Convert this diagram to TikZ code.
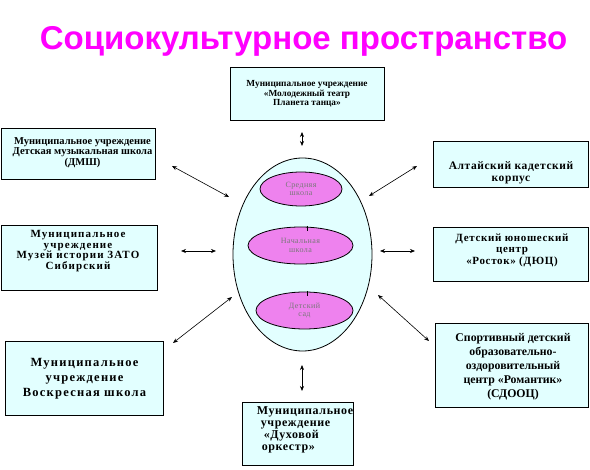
\documentclass[tikz,border=0pt]{standalone}
\usepackage{fontspec}
\setmainfont{Liberation Serif}
\newfontfamily\titlefont{Liberation Sans}
\usetikzlibrary{arrows.meta,shapes.geometric}
\definecolor{boxfill}{RGB}{226,255,255}
\definecolor{innerfill}{RGB}{238,130,238}
\definecolor{titlecol}{RGB}{255,0,255}
\definecolor{graytext}{RGB}{120,120,120}
\newcommand\boxfont[3]{\fontsize{#1}{#2}\selectfont\bfseries\addfontfeature{LetterSpace=#3}}
\begin{document}
\begin{tikzpicture}[x=1pt,y=-1pt,
  box/.style={draw=black, line width=1pt, fill=boxfill, inner sep=0pt},
  txt/.style={align=center, inner sep=0pt},
  arr/.style={{Stealth[length=5pt,width=4pt]}-{Stealth[length=5pt,width=4pt]}, line width=0.6pt},
  innerell/.style={ellipse, draw=black, line width=0.8pt, fill=innerfill, inner sep=0pt},
  intext/.style={align=center, inner sep=0pt, text=graytext, font=\fontsize{8}{8.5}\selectfont\addfontfeature{LetterSpace=5}}
]
\useasboundingbox (0,0) rectangle (590,470);

% title
\node[anchor=base, inner sep=0pt, text=titlecol, font=\titlefont\bfseries\fontsize{33}{33}\selectfont] (title) at (303.5,50) {Социокультурное пространство};

% central egg
\node[ellipse, draw=black, line width=0.8pt, fill=boxfill, minimum width=139pt, minimum height=193pt] (egg) at (302.5,254.5) {};
\node[innerell, minimum width=82pt, minimum height=34pt] (sr) at (301,189) {};
\node[intext] (srt) at (301,189) {Средняя\\школа};
\node[innerell, minimum width=105pt, minimum height=37pt] (nach) at (300.5,245.5) {};
\node[intext] (nacht) at (300.5,245.5) {Начальная\\школа};
\node[innerell, minimum width=97pt, minimum height=37pt] (ds) at (304.5,310.5) {};
\node[intext] (dst) at (304.5,310.5) {Детский\\сад};
\draw[line width=0.8pt] (307,226) -- (307,231);
\draw[line width=0.8pt] (307,291) -- (307,296);

% boxes
\node[box, minimum width=154pt, minimum height=53pt] (top) at (307,94.5) {};
\node[txt, font=\boxfont{9.3}{9.6}{0}] (topt) at (307,94) {Муниципальное учреждение\\«Молодежный театр\\Планета танца»};

\node[box, minimum width=154pt, minimum height=51pt] (lb1) at (78,154.5) {};
\node[txt, font=\boxfont{10.5}{10.2}{0}] (lb1t) at (82.5,152.5) {Муниципальное учреждение\\Детская музыкальная школа\\(ДМШ)};

\node[box, minimum width=155pt, minimum height=46pt] (rb1) at (511,165) {};
\node[txt, font=\boxfont{11.5}{11.7}{5}] (rb1t) at (511,172.5) {Алтайский кадетский\\корпус};

\node[box, minimum width=156pt, minimum height=65pt] (lb2) at (79,258.5) {};
\node[txt, font=\boxfont{11}{10.6}{10}] (lb2t) at (78,251) {Муниципальное\\учреждение\\Музей истории ЗАТО\\Сибирский};

\node[box, minimum width=155pt, minimum height=54pt] (rb2) at (511,255) {};
\node[txt, font=\boxfont{11}{11.5}{6}] (rb2t) at (512,250) {Детский юношеский\\центр\\«Росток» (ДЮЦ)};

\node[box, minimum width=158pt, minimum height=74pt] (lb3) at (84,379) {};
\node[txt, font=\boxfont{12.5}{15}{10}] (lb3t) at (84.5,378.5) {Муниципальное\\учреждение\\Воскресная школа};

\node[box, minimum width=153pt, minimum height=84pt] (rb3) at (512,366) {};
\node[txt, font=\boxfont{11.8}{14}{0}] (rb3t) at (513,367) {Спортивный детский\\образовательно-\\оздоровительный\\центр «Романтик»\\(СДООЦ)};

\node[box, minimum width=111pt, minimum height=63pt] (bot) at (297.5,434.5) {};
\node[txt, align=left, font=\boxfont{12}{11.9}{5}] (bott) at (305,430) {Муниципальное\\\hspace*{4pt}учреждение\\\hspace*{7pt}«Духовой\\\hspace*{5pt}оркестр»};

% arrows
\coordinate (a1s) at (302,132); \coordinate (a1e) at (302,146);
\coordinate (a2s) at (172,166); \coordinate (a2e) at (229,197);
\coordinate (a3s) at (417,166); \coordinate (a3e) at (369,196);
\coordinate (a4s) at (181,251); \coordinate (a4e) at (216,251);
\coordinate (a5s) at (380,251); \coordinate (a5e) at (415,251);
\coordinate (a6s) at (232,297); \coordinate (a6e) at (173,343);
\coordinate (a7s) at (378,295); \coordinate (a7e) at (429,341);
\coordinate (a8s) at (302,365); \coordinate (a8e) at (302,391);
\foreach \i in {1,...,8} { \draw[arr] (a\i s) -- (a\i e); }
\end{tikzpicture}
\end{document}
